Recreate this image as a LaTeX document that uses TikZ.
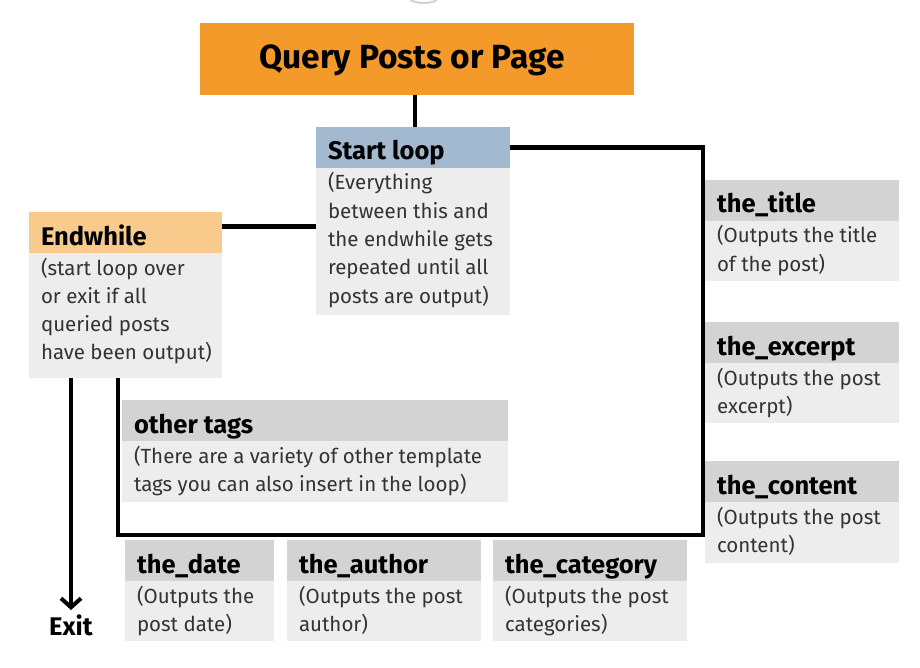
\documentclass[tikz,border=0pt]{standalone}
\usepackage{fontspec}
\setmainfont{Fira Sans}
\usetikzlibrary{arrows.meta}
\definecolor{qorange}{HTML}{F39A2B}
\definecolor{peach}{HTML}{F8CB8D}
\definecolor{bluegray}{HTML}{A2B9D0}
\definecolor{hdrgray}{HTML}{D3D3D3}
\definecolor{bodygray}{HTML}{EDEDED}
\definecolor{txtgray}{HTML}{333333}
\definecolor{arcblue}{HTML}{C9D4E0}
\newcommand{\hdrfont}{\fontsize{25.5}{28}\selectfont\bfseries\color{black}}
\newcommand{\bodyfont}{\fontsize{20.5}{28.3}\selectfont\color{txtgray}}
\tikzset{
  box/.style={inner sep=0pt, outer sep=0pt, anchor=north west},
  conn/.style={line width=4.5pt, draw=black},
}
\newcommand{\tagbox}[8]{%
  \node[box, fill=#6] (#1) at (#2,#3) {\parbox[t][41pt][t]{#4pt}{\rule{0pt}{33pt}\hspace*{12pt}\hdrfont #7}};
  \node[box, fill=bodygray] (#1b) at (#1.south west) {\parbox[t][#5pt][t]{#4pt}{\bodyfont\leftskip=12pt\rule{0pt}{22pt}#8}};
}
\begin{document}
\begin{tikzpicture}[x=1pt,y=-1pt]
\useasboundingbox (0,0) rectangle (920,668);
% faint arc at top
\draw[arcblue, line width=2pt] (410,0) .. controls (418,4) and (430,4) .. (437,0);
% query box
\node[box, fill=qorange, minimum width=434pt, minimum height=72pt] (query) at (200,23) {};
\node[font=\fontsize{33.5}{40}\selectfont\bfseries] (qtext) at (412,60) {Query Posts or Page};
% boxes
\tagbox{start}{316}{127}{194}{147}{bluegray}{Start loop}{(Everything\\between this and\\the endwhile gets\\repeated until all\\posts are output)}
\tagbox{endw}{29}{212}{193}{125}{peach}{Endwhile}{(start loop over\\or exit if all\\queried posts\\have been output)}
\tagbox{title}{705}{180}{194}{60}{hdrgray}{the\_title}{(Outputs the title\\of the post)}
\tagbox{excerpt}{705}{322}{194}{60}{hdrgray}{the\_excerpt}{(Outputs the post\\excerpt)}
\tagbox{content}{705}{461}{194}{61}{hdrgray}{the\_content}{(Outputs the post\\content)}
\tagbox{other}{122}{400}{386}{61}{hdrgray}{other tags}{(There are a variety of other template\\tags you can also insert in the loop)}
\tagbox{date}{125}{540}{149}{60}{hdrgray}{the\_date}{(Outputs the\\post date)}
\tagbox{author}{287}{540}{194}{60}{hdrgray}{the\_author}{(Outputs the post\\author)}
\tagbox{category}{493}{540}{194}{60}{hdrgray}{the\_category}{(Outputs the post\\categories)}
% connectors
\coordinate (loopR) at (703,535);
\coordinate (loopL) at (118,535);
\coordinate (exitend) at (71,610);
\draw[conn] (query.south -| 415,0) -- (start.north -| 415,0);
\draw[conn] (start.east) -| (loopR) -- (loopL) -- (loopL |- endwb.south);
\draw[conn] ([yshift=6pt]endw.east) -- ([yshift=6pt]endw.east -| startb.west);
\draw[conn, -{Straight Barb[length=9pt,width=20pt,line width=4pt]}] (endwb.south -| exitend) -- (exitend);
\node[anchor=base, font=\fontsize{25.5}{28}\selectfont\bfseries] (exit) at (71,635) {Exit};
\end{tikzpicture}
\end{document}
